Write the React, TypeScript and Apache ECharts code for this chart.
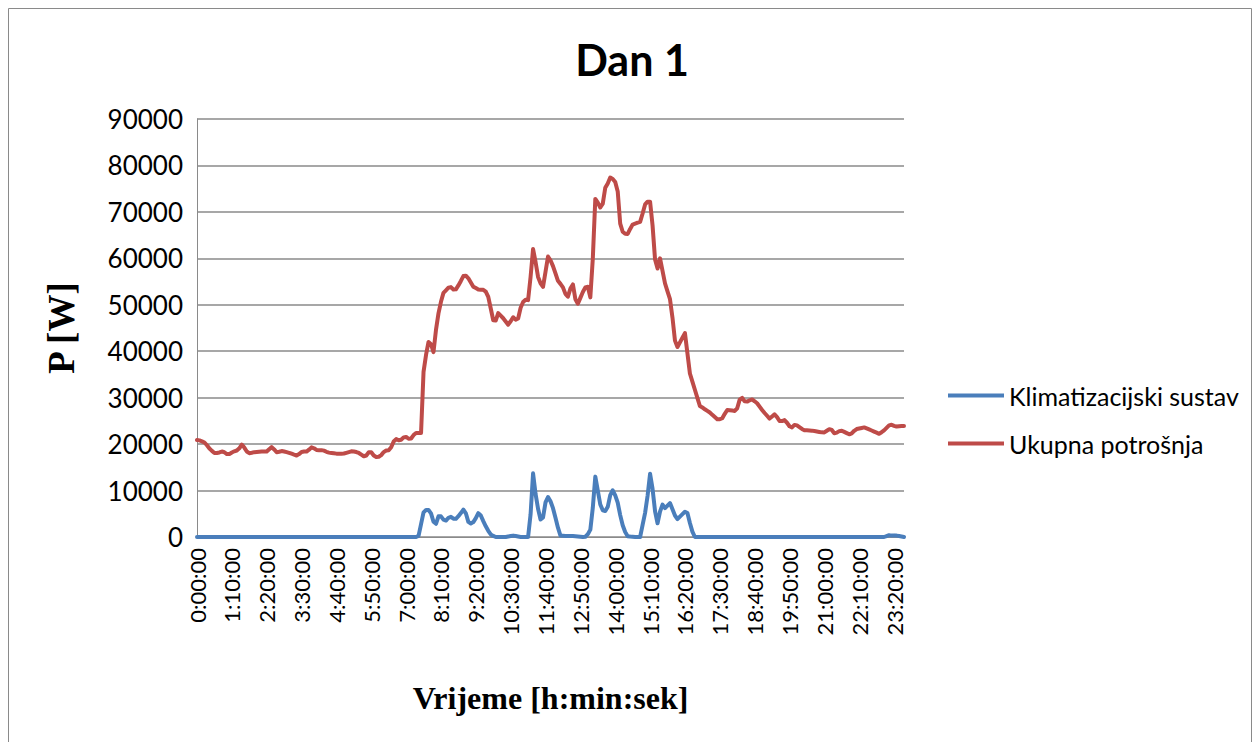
import React, { useEffect, useRef } from "react";
import * as echarts from "echarts";

// Time axis: 5-minute steps from 0:00:00 to 23:40:00 (285 points)
const STEP_MIN = 5;
const N_POINTS = 285;
const categories: string[] = [];
for (let i = 0; i < N_POINTS; i++) {
  const m = i * STEP_MIN;
  const h = Math.floor(m / 60);
  const mm = m % 60;
  categories.push(`${h}:${mm < 10 ? "0" : ""}${mm}:00`);
}

const seriesNames = ["Klimatizacijski sustav", "Ukupna potrošnja"];

// Klimatizacijski sustav [W]
const klima: number[] = [
  0, 0, 0, 0, 0, 0, 0, 0, 0, 0,
  0, 0, 0, 0, 0, 0, 0, 0, 0, 0,
  0, 0, 0, 0, 0, 0, 0, 0, 0, 0,
  0, 0, 0, 0, 0, 0, 0, 0, 0, 0,
  0, 0, 0, 0, 0, 0, 0, 0, 0, 0,
  0, 0, 0, 0, 0, 0, 0, 0, 0, 0,
  0, 0, 0, 0, 0, 0, 0, 0, 0, 0,
  0, 0, 0, 0, 0, 0, 0, 0, 0, 0,
  0, 0, 0, 0, 0, 0, 0, 0, 0, 250,
  2770, 5300, 5800, 5800, 5080, 3280, 2850, 4460, 4450, 3730,
  3540, 4140, 4340, 3940, 3920, 4480, 5150, 5900, 5100, 3250,
  2910, 3210, 4050, 5130, 4620, 3430, 2310, 1330, 550, 230,
  0, 0, 0, 0, 0, 100, 200, 300, 200, 100,
  0, 0, 0, 0, 4890, 13700, 9270, 6090, 3760, 4210,
  7440, 8600, 7700, 6210, 4120, 2000, 300, 250, 200, 200,
  200, 200, 150, 100, 50, 0, 60, 600, 1580, 6340,
  13000, 10000, 7000, 5750, 5590, 6500, 9000, 10060, 8970, 7390,
  4710, 2520, 1070, 180, 100, 50, 0, 0, 0, 2600,
  5200, 8900, 13600, 10350, 5550, 2950, 5450, 6970, 6200, 6750,
  7300, 5970, 4630, 3860, 4380, 4910, 5430, 5160, 3010, 1150,
  0, 0, 0, 0, 0, 0, 0, 0, 0, 0,
  0, 0, 0, 0, 0, 0, 0, 0, 0, 0,
  0, 0, 0, 0, 0, 0, 0, 0, 0, 0,
  0, 0, 0, 0, 0, 0, 0, 0, 0, 0,
  0, 0, 0, 0, 0, 0, 0, 0, 0, 0,
  0, 0, 0, 0, 0, 0, 0, 0, 0, 0,
  0, 0, 0, 0, 0, 0, 0, 0, 0, 0,
  0, 0, 0, 0, 0, 0, 0, 200, 400, 300,
  350, 300, 200, 100, 0,
];

// Ukupna potrošnja [W]
const ukupna: number[] = [
  20900, 20800, 20600, 20350, 19750, 19050, 18550, 18100, 18100, 18200,
  18400, 18250, 17850, 17850, 18200, 18450, 18620, 19100, 19900, 19250,
  18400, 18050, 18150, 18270, 18320, 18360, 18400, 18400, 18400, 18900,
  19350, 18850, 18250, 18350, 18500, 18400, 18270, 18120, 17930, 17730,
  17550, 17850, 18300, 18400, 18400, 18800, 19300, 19100, 18750, 18700,
  18700, 18600, 18350, 18170, 18100, 18030, 17950, 17950, 17920, 17970,
  18130, 18290, 18450, 18400, 18290, 18090, 17740, 17380, 17550, 18250,
  18250, 17550, 17230, 17280, 17630, 18280, 18620, 18680, 19320, 20570,
  21080, 20820, 20950, 21450, 21550, 21150, 21200, 21950, 22400, 22400,
  22400, 35560, 39200, 42000, 41520, 39800, 44600, 48140, 50640, 52560,
  53110, 53670, 53800, 53300, 53330, 54170, 55130, 56180, 56260, 55700,
  54800, 53900, 53600, 53300, 53260, 53230, 52850, 51700, 49200, 46670,
  46610, 48200, 47650, 47100, 46410, 45720, 46440, 47310, 46800, 47060,
  49370, 50600, 51100, 51000, 56000, 62000, 59220, 56000, 54620, 53870,
  57120, 60380, 59580, 58330, 56740, 55160, 54500, 53740, 52340, 51740,
  53480, 54380, 51190, 50230, 51480, 52750, 53750, 53890, 51600, 60000,
  72800, 72000, 70950, 71780, 75190, 76120, 77400, 77100, 76450, 74410,
  67490, 65730, 65280, 65240, 66340, 67280, 67470, 67670, 67860, 69650,
  71610, 72200, 72200, 67070, 59730, 57800, 60000, 57300, 54600, 52900,
  51210, 47230, 42280, 40900, 41900, 42900, 43900, 39550, 35200, 33450,
  31700, 29950, 28200, 27900, 27500, 27150, 26800, 26300, 25830, 25340,
  25360, 25590, 26520, 27340, 27280, 27220, 27150, 27710, 29580, 29950,
  29200, 29150, 29430, 29620, 29220, 28800, 28060, 27350, 26700, 26100,
  25500, 25950, 26410, 25820, 24970, 24960, 25160, 24600, 23850, 23610,
  24140, 24030, 23650, 23270, 22990, 22960, 22930, 22900, 22820, 22720,
  22620, 22530, 22520, 22870, 23220, 23050, 22340, 22470, 22800, 22890,
  22630, 22370, 22110, 22330, 22870, 23250, 23370, 23480, 23600, 23380,
  23160, 22930, 22690, 22460, 22220, 22560, 22960, 23490, 24030, 24170,
  23920, 23770, 23850, 23900, 23900,
];

const Y_MIN = 0;
const Y_MAX = 90000;
const Y_STEP = 10000;

export default function App() {
  const ref = useRef<HTMLDivElement>(null);
  useEffect(() => {
    if (!ref.current) return;
    const chart = echarts.init(ref.current, undefined, { renderer: "svg" });
    const gridColor = "#8a8a8a";
    chart.setOption({
      animation: false,
      backgroundColor: "#ffffff",
      graphic: [
        {
          type: "rect",
          shape: { x: 8.5, y: 8.5, width: 1243, height: 800 },
          style: { fill: "none", stroke: "#8a8a8a", lineWidth: 1 },
          silent: true,
        },
        {
          type: "text",
          x: 632,
          y: 59,
          style: {
            text: "Dan 1",
            textAlign: "center",
            textVerticalAlign: "middle",
            fontFamily: "Lato",
            fontWeight: "bold",
            fontSize: 43,
            fill: "#000",
          },
        },
      ],
      grid: { left: 197, top: 119, width: 707, height: 418, containLabel: false },
      legend: {
        orient: "vertical",
        left: 943,
        top: 378,
        itemWidth: 56,
        itemHeight: 4,
        itemGap: 23,
        icon: "rect",
        data: seriesNames,
        textStyle: { fontFamily: "Lato", fontSize: 25, color: "#000" },
      },
      xAxis: {
        type: "category",
        data: categories,
        boundaryGap: false,
        axisLine: { show: true, lineStyle: { color: gridColor, width: 1 } },
        axisTick: { show: false },
        axisLabel: {
          interval: 13,
          rotate: 90,
          margin: 11,
          fontFamily: "Lato",
          fontSize: 22,
          color: "#000",
        },
        splitLine: { show: false },
        name: "Vrijeme [h:min:sek]",
        nameLocation: "middle",
        nameGap: 145,
        nameTextStyle: {
          fontFamily: "Liberation Serif",
          fontWeight: "bold",
          fontSize: 32,
          color: "#000",
        },
      },
      yAxis: {
        type: "value",
        min: Y_MIN,
        max: Y_MAX,
        interval: Y_STEP,
        axisLine: { show: true, lineStyle: { color: gridColor, width: 1 } },
        axisTick: { show: false },
        splitLine: { show: true, lineStyle: { color: gridColor, width: 1.5 } },
        axisLabel: {
          margin: 14,
          fontFamily: "Lato",
          fontSize: 26,
          color: "#000",
          formatter: (v: number) => String(v),
        },
        name: "P [W]",
        nameLocation: "middle",
        nameRotate: 90,
        nameGap: 117,
        nameTextStyle: {
          fontFamily: "Liberation Serif",
          fontWeight: "bold",
          fontSize: 37,
          color: "#000",
        },
      },
      series: [
        {
          name: seriesNames[0],
          type: "line",
          data: klima,
          showSymbol: false,
          symbol: "none",
          color: "#4a7ebb",
          lineStyle: { color: "#4a7ebb", width: 4, cap: "round", join: "round" },
        },
        {
          name: seriesNames[1],
          type: "line",
          data: ukupna,
          showSymbol: false,
          symbol: "none",
          color: "#be4b48",
          lineStyle: { color: "#be4b48", width: 4, cap: "round", join: "round" },
        },
      ],
    });
    return () => chart.dispose();
  }, []);
  return (
    <div
      ref={ref}
      style={{ position: "absolute", left: 0, top: 0, width: 1257, height: 742 }}
    />
  );
}
